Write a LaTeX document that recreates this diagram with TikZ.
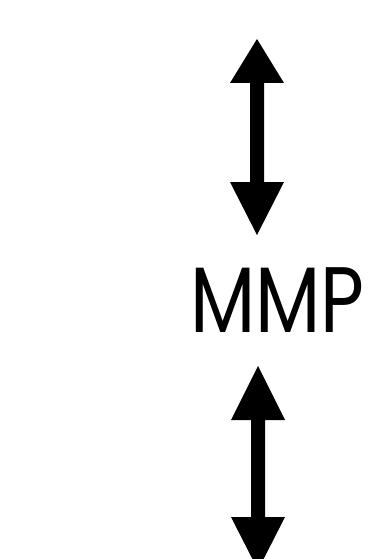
\documentclass[tikz,border=0pt]{standalone}
\usepackage{fontspec}
\setmainfont{Poppins}
\begin{document}
\begin{tikzpicture}[x=1pt,y=-1pt,
  arrowfill/.style={fill=black,draw=none}]
\useasboundingbox (0,0) rectangle (376,559);
% upper double arrow
\fill[arrowfill] (257,39) -- (284,83) -- (264,83) -- (264,182) -- (284,182) -- (257,235)
  -- (230,182) -- (250,182) -- (250,83) -- (230,83) -- cycle;
% lower double arrow
\fill[arrowfill] (258,366) -- (285,420) -- (265,420) -- (265,517) -- (285,517) -- (258,570)
  -- (231,517) -- (251,517) -- (251,420) -- (231,420) -- cycle;
\node[anchor=base, inner sep=0pt, font=\fontsize{93}{93}\selectfont, xscale=0.815, transform shape] (mmp) at (277.5,332) {MMP};
\end{tikzpicture}
\end{document}
